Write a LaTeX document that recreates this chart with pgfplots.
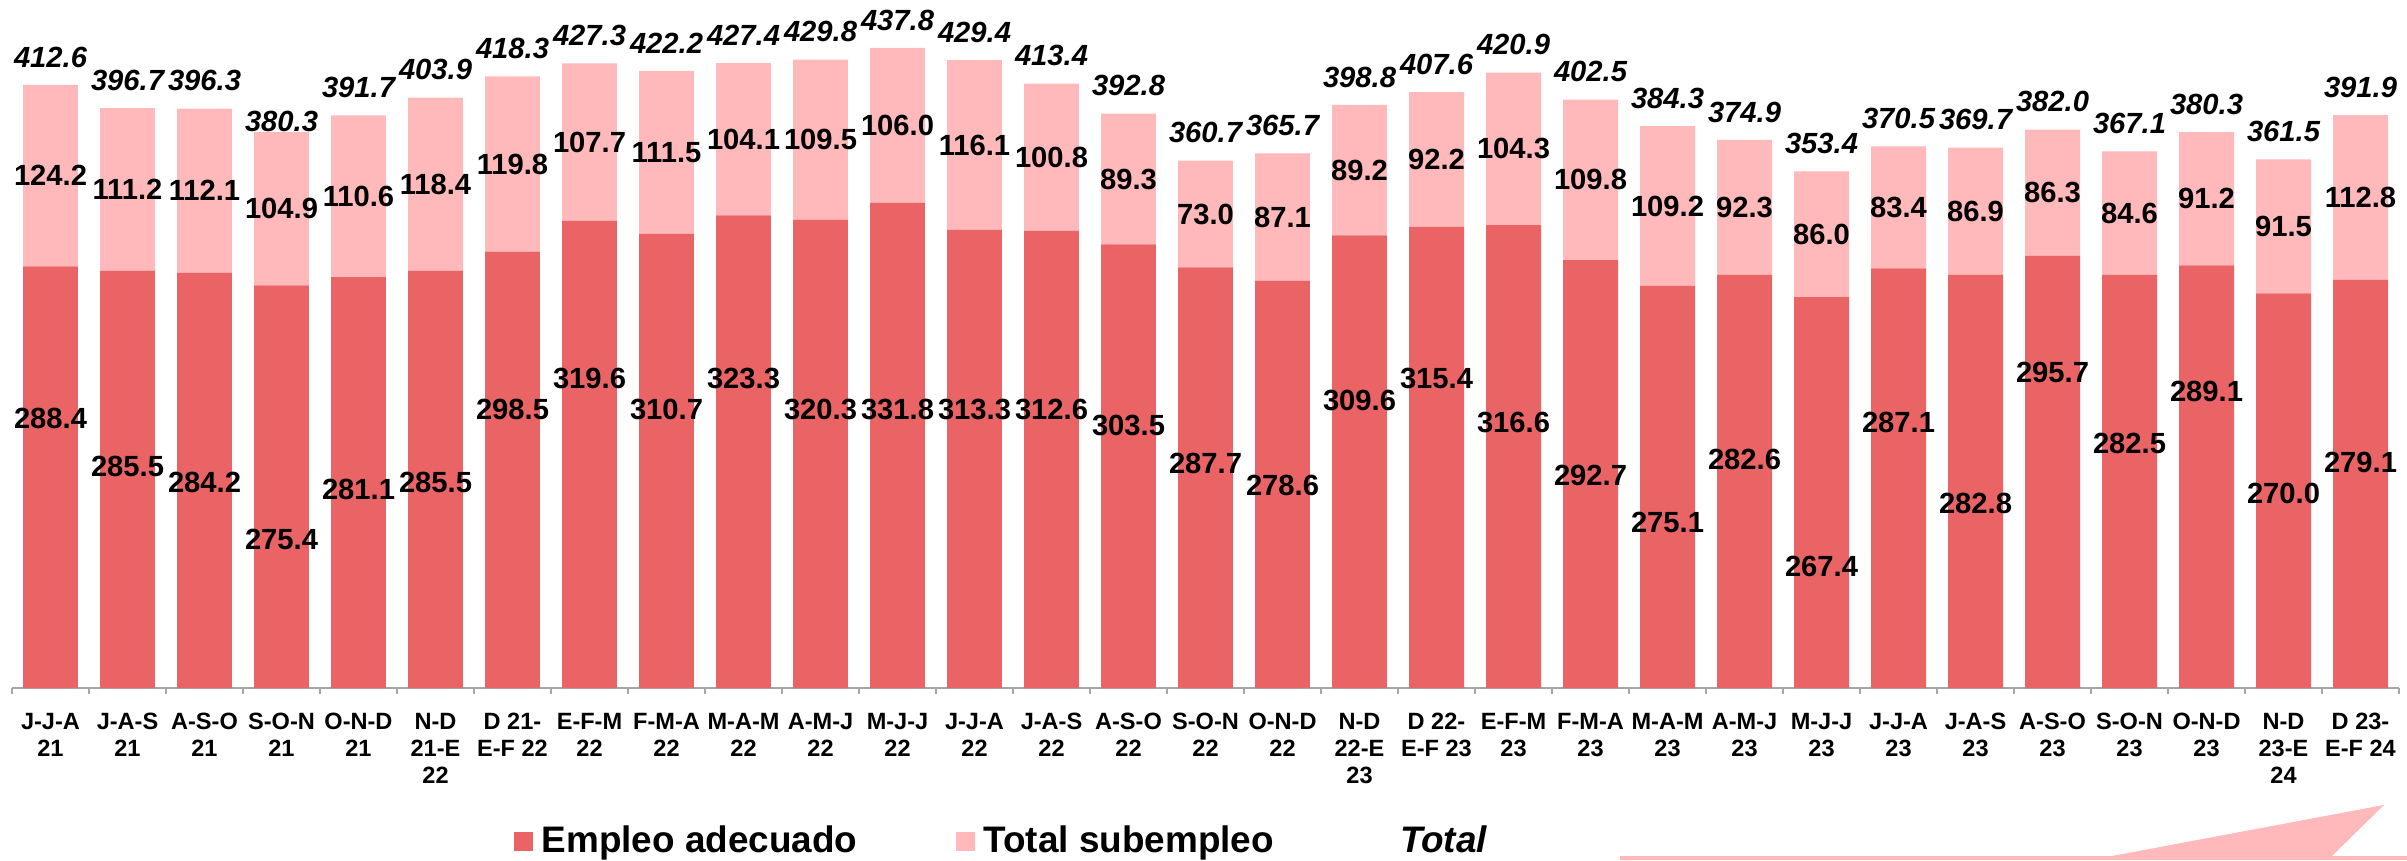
\documentclass[border=0pt]{standalone}
\usepackage{pgfplots}
\pgfplotsset{compat=1.18}
\usepackage{pgfplotstable}
\usepackage{fontspec}
\setmainfont{Liberation Sans}

\definecolor{empleo}{RGB}{234,100,102}
\definecolor{subemp}{RGB}{255,185,186}
\definecolor{axgray}{RGB}{166,166,166}

% x: categoria, a: empleo adecuado, s: total subempleo, t: total
% ay: altura de la etiqueta de a, toff: separacion de la etiqueta del total
\pgfplotstableread{
x a s t ay toff
0 288.4 124.2 412.6 184.7 19
1 285.5 111.2 396.7 151.2 19
2 284.2 112.1 396.3 140.9 19
3 275.4 104.9 380.3 101.9 7.5
4 281.1 110.6 391.7 136.1 19
5 285.5 118.4 403.9 140.9 19
6 298.5 119.8 418.3 190.2 19
7 319.6 107.7 427.3 212.0 19
8 310.7 111.5 422.2 190.2 19
9 323.3 104.1 427.4 212.0 19
10 320.3 109.5 429.8 190.2 19
11 331.8 106.0 437.8 190.2 19
12 313.3 116.1 429.4 190.2 19
13 312.6 100.8 413.4 190.2 19
14 303.5 89.3 392.8 179.9 19
15 287.7 73.0 360.7 153.9 19
16 278.6 87.1 365.7 138.2 19
17 309.6 89.2 398.8 197.0 19
18 315.4 92.2 407.6 212.0 19
19 316.6 104.3 420.9 181.3 19
20 292.7 109.8 402.5 145.7 19
21 275.1 109.2 384.3 112.9 19
22 282.6 92.3 374.9 156.6 19
23 267.4 86.0 353.4 82.8 19
24 287.1 83.4 370.5 181.3 19
25 282.8 86.9 369.7 125.9 19
26 295.7 86.3 382.0 216.1 19
27 282.5 84.6 367.1 167.6 19
28 289.1 91.2 380.3 202.5 19
29 270.0 91.5 361.5 133.4 19
30 279.1 112.8 391.9 154.6 19
}\datos

\begin{document}
\begin{tikzpicture}
\path[use as bounding box] (0mm,0mm) rectangle (240.7mm,86mm);
% flecha decorativa
\fill[subemp] (162mm,0mm) -- (162mm,0.4mm) -- (211.2mm,0.4mm) -- (238.4mm,5.5mm)
  -- (233.2mm,0.4mm) -- (240.7mm,0.4mm) -- (240.7mm,0mm) -- cycle;

\begin{axis}[
  at={(1.2mm,17.2mm)}, anchor=south west,
  scale only axis, width=238.7mm, height=68.8mm,
  ybar stacked, bar width=0.714,
  xmin=-0.5, xmax=30.5, ymin=0, ymax=470.6,
  axis y line=none, axis x line*=bottom,
  x axis line style={axgray, line width=0.6pt, -},
  xtick={0,...,30},
  xticklabels={{J-J-A\\21},{J-A-S\\21},{A-S-O\\21},{S-O-N\\21},{O-N-D\\21},
    {N-D\\21-E\\22},{D 21-\\E-F 22},{E-F-M\\22},{F-M-A\\22},{M-A-M\\22},
    {A-M-J\\22},{M-J-J\\22},{J-J-A\\22},{J-A-S\\22},{A-S-O\\22},{S-O-N\\22},
    {O-N-D\\22},{N-D\\22-E\\23},{D 22-\\E-F 23},{E-F-M\\23},{F-M-A\\23},
    {M-A-M\\23},{A-M-J\\23},{M-J-J\\23},{J-J-A\\23},{J-A-S\\23},{A-S-O\\23},
    {S-O-N\\23},{O-N-D\\23},{N-D\\23-E\\24},{D 23-\\E-F 24}},
  major tick length=0pt,
  minor xtick={-0.5,0.5,...,30.5},
  minor tick length=0.6mm,
  tick align=outside,
  minor x tick style={axgray, line width=0.6pt},
  xticklabel style={font=\fontsize{6.7}{7.6}\selectfont\bfseries, align=center, yshift=-1.3mm},
  legend columns=3,
  legend style={at={(axis description cs:0.2099,-0.2238)}, anchor=west,
    draw=none, fill=none, inner sep=0pt,
    font=\fontsize{10.5}{12}\selectfont\bfseries,
    nodes={inner sep=0pt},
    /tikz/every even column/.append style={column sep=9.8mm},
    /tikz/every odd column/.append style={column sep=0.9mm}},
]
\addplot[fill=empleo, draw=none,
  legend image code/.code={\fill[empleo] (0mm,-0.95mm) rectangle (1.9mm,0.95mm);}]
  table[x=x, y=a]{\datos};
\addlegendentry{Empleo adecuado}
\addplot[fill=subemp, draw=none,
  legend image code/.code={\fill[subemp] (0mm,-0.95mm) rectangle (1.9mm,0.95mm);}]
  table[x=x, y=s]{\datos};
\addlegendentry{Total subempleo}
\addlegendimage{empty legend}
\addlegendentry{\hspace*{1.9mm}\textit{Total}}
\end{axis}

% etiquetas de datos
\begin{axis}[
  at={(1.2mm,17.2mm)}, anchor=south west,
  scale only axis, width=238.7mm, height=68.8mm,
  xmin=-0.5, xmax=30.5, ymin=0, ymax=470.6,
  hide axis, clip=false,
  nodes near coords, point meta=explicit symbolic,
  every node near coord/.append style={anchor=center, inner sep=0pt,
    font=\fontsize{8.3}{9}\selectfont\bfseries},
]
\addplot[draw=none, mark=none] table[x=x, y=ay, meta=a]{\datos};
\addplot[draw=none, mark=none] table[x=x, y expr=\thisrow{a}+0.5*\thisrow{s}, meta=s]{\datos};
\addplot[draw=none, mark=none,
  every node near coord/.append style={font=\fontsize{8.3}{9}\selectfont\bfseries\itshape}]
  table[x=x, y expr=\thisrow{t}+\thisrow{toff}, meta=t]{\datos};
\end{axis}
\end{tikzpicture}
\end{document}
